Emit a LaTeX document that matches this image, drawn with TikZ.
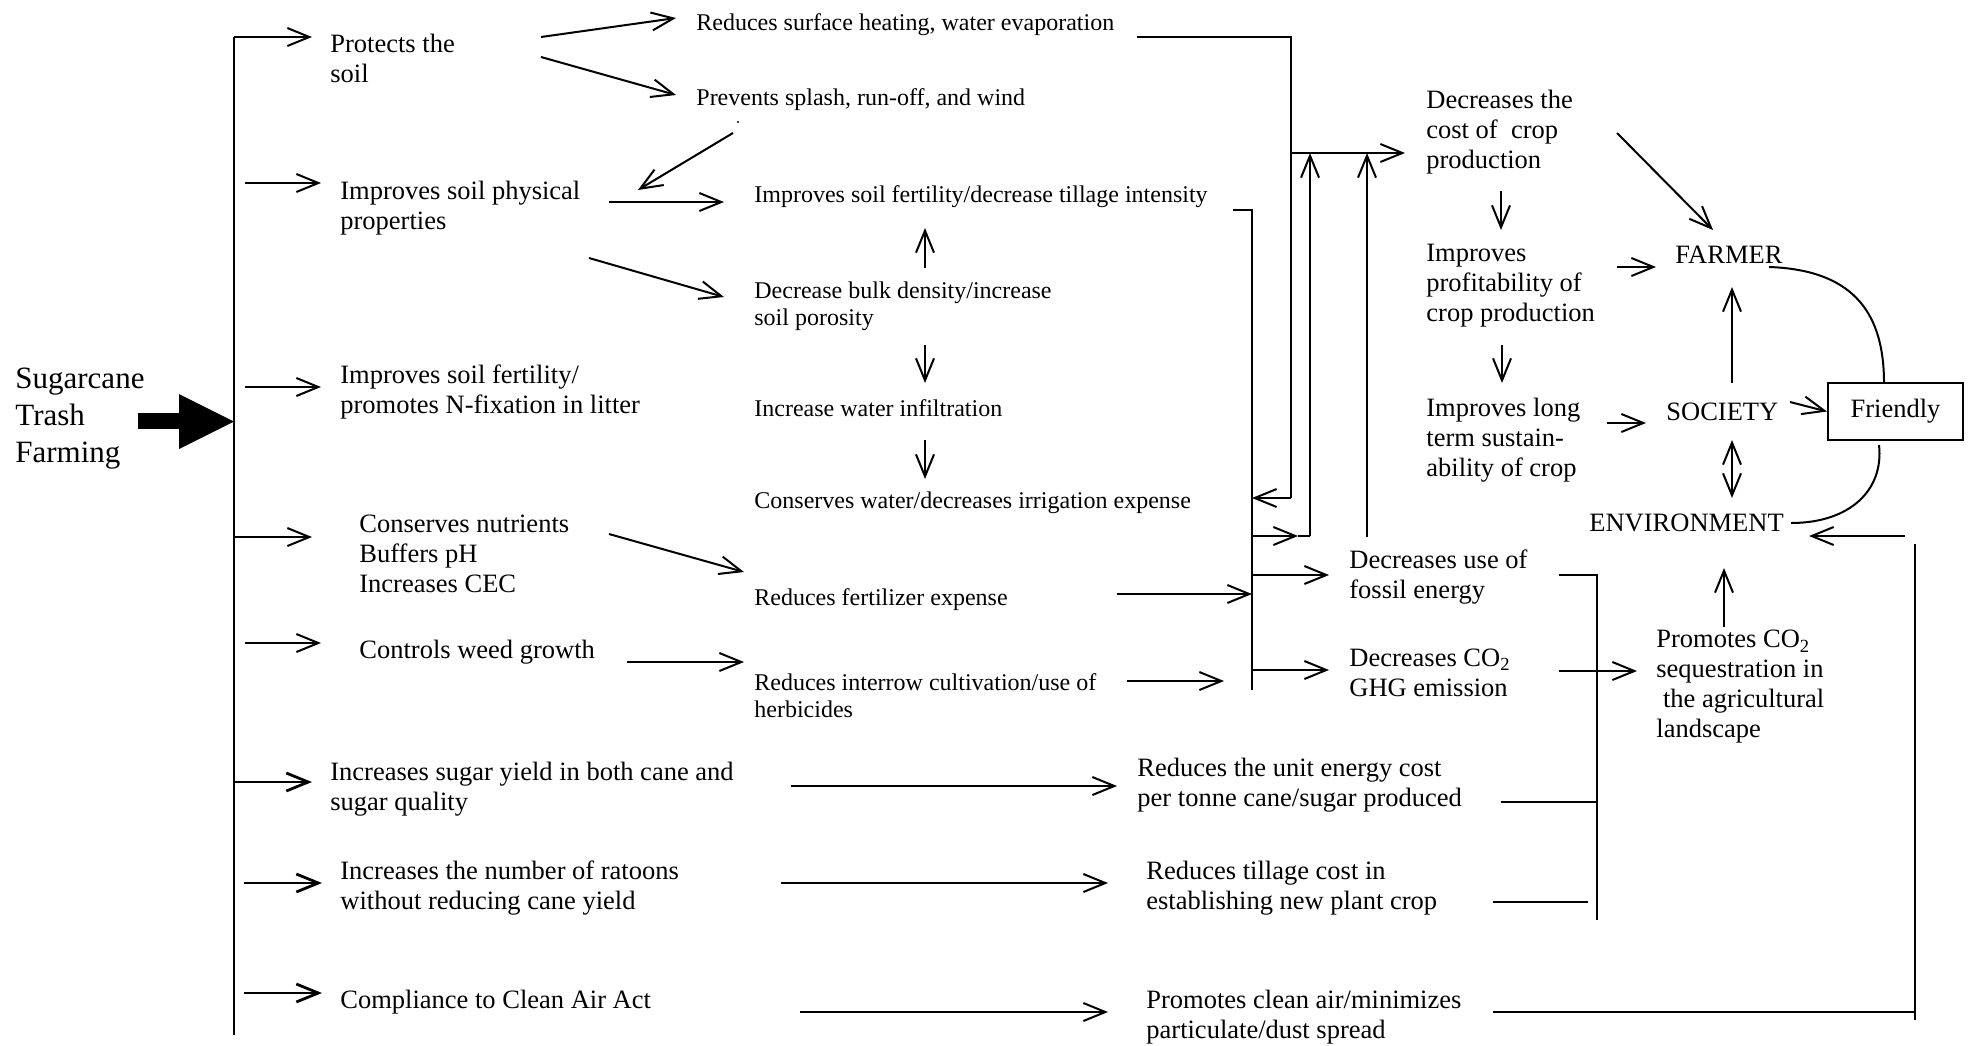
\documentclass[tikz,border=0pt]{standalone}
\usepackage{fontspec}
\setmainfont{Liberation Serif}
\usetikzlibrary{arrows.meta}
\begin{document}
\begin{tikzpicture}[x=0.5pt,y=-0.5pt,
  big/.style={font=\fontsize{13.25}{15}\selectfont, anchor=west, align=left, inner sep=0pt},
  small/.style={font=\fontsize{12}{13.5}\selectfont, anchor=west, align=left, inner sep=0pt},
  title/.style={font=\fontsize{15.5}{18.5}\selectfont, anchor=west, align=left, inner sep=0pt},
  conn/.style={line width=1pt, -{Straight Barb[length=11pt,width=9pt]}},
  both/.style={line width=1pt, {Straight Barb[length=11pt,width=9pt]}-{Straight Barb[length=11pt,width=9pt]}},
  plain/.style={line width=1pt},
  lead/.style={line width=1.4pt, -{Straight Barb[length=11pt,width=9pt]}},
]
\useasboundingbox (0,0) rectangle (1969,1045);

% ---------- text nodes ----------
\node[title] (stf) at (15,419) {Sugarcane\\Trash\\Farming};

\node[big] (pts) at (330,58) {Protects the\\soil};
\node[big] (isp) at (340,208) {Improves soil physical\\properties};
\node[big] (isf) at (340,392) {Improves soil fertility/\\promotes N-fixation in litter};
\node[big] (cnu) at (359,554) {Conserves nutrients\\Buffers pH\\Increases CEC};
\node[big] (cwg) at (359,652) {Controls weed growth};
\node[big] (isy) at (330,789) {Increases sugar yield in both cane and\\sugar quality};
\node[big] (inr) at (340,888) {Increases the number of ratoons\\without reducing cane yield};
\node[big] (cca) at (340,1002) {Compliance to Clean Air Act};

\node[small] (rsh) at (696,25) {Reduces surface heating, water evaporation};
\node[small] (psr) at (696,100) {Prevents splash, run-off, and wind};
\node[small] (ifd) at (754,197) {Improves soil fertility/decrease tillage intensity};
\node[small] (dbd) at (754,306) {Decrease bulk density/increase\\soil porosity};
\node[small] (iwi) at (754,408) {Increase water infiltration};
\node[small] (cwd) at (754,503) {Conserves water/decreases irrigation expense};
\node[small] (rfe) at (754,600) {Reduces fertilizer expense};
\node[small] (ric) at (754,696) {Reduces interrow cultivation/use of\\herbicides};

\node[big] (rue) at (1137,785) {Reduces the unit energy cost\\per tonne cane/sugar produced};
\node[big] (rtc) at (1146,888) {Reduces tillage cost in\\establishing new plant crop};
\node[big] (pca) at (1146,1017) {Promotes clean air/minimizes\\particulate/dust spread};

\node[big] (dcc) at (1426,132) {Decreases the\\cost of\ \ crop\\production};
\node[big] (ipc) at (1426,286) {Improves\\profitability of\\crop production};
\node[big] (ilt) at (1426,440) {Improves long\\term sustain-\\ability of crop};
\node[big] (dfe) at (1349,577) {Decreases use of\\fossil energy};
\node[big] (dco) at (1349,673) {Decreases CO\textsubscript{2}\\GHG emission};
\node[big] (pcs) at (1656,687) {Promotes CO\textsubscript{2}\\sequestration in\\\hspace{0.25em}the agricultural\\landscape};

\node[big] (frm) at (1675,255) {FARMER};
\node[big] (soc) at (1666,412) {SOCIETY};
\node[big] (env) at (1589,523) {ENVIRONMENT};
\node[big, draw, line width=1pt, anchor=center, minimum width=67.5pt, minimum height=28.5pt] (fri) at (1895.5,411.5) {Friendly};

% stray mark under "Prevents"
\fill (738,122) circle (1.2);

% ---------- big input arrow ----------
\fill (138,413) rectangle (180,429);
\fill (179,394) -- (234,421.5) -- (179,449) -- cycle;

% ---------- left trunk ----------
\coordinate (trA) at (234,37);
\coordinate (trB) at (234,1035);
\draw[plain] (trB) -- (trA);
\draw[conn] (trA) -- (312,37);
\draw[conn] (245,183) -- (321,183);
\draw[conn] (245,387) -- (321,387);
\draw[conn] (234,537) -- (312,537);
\draw[conn] (245,643) -- (321,643);
\draw[lead] (234,782) -- (312,782);
\draw[lead] (244,883) -- (322,883);
\draw[lead] (244,993) -- (322,993);

% ---------- left to middle ----------
\draw[conn] (541,37) -- (676,18);
\draw[conn] (541,57) -- (676,95);
\draw[conn] (733,133) -- (638,190);
\draw[conn] (609,202) -- (724,202);
\draw[conn] (589,258) -- (724,297);
\draw[conn] (925,268) -- (925,228);
\draw[conn] (925,345) -- (925,383);
\draw[conn] (925,440) -- (925,479);
\draw[conn] (609,534) -- (744,572);
\draw[conn] (627,662) -- (744,662);

% ---------- middle to hub ----------
\draw[conn] (1117,594) -- (1252,594);
\draw[conn] (1127,681) -- (1224,681);
\draw[plain] (1137,37) -- (1291,37) -- (1291,498);
\draw[conn] (1291,498) -- (1252,498);
\draw[plain] (1233,210) -- (1252,210) -- (1252,690);
\draw[conn] (1252,536) -- (1298,536);
\draw[plain] (1298,536) -- (1310,536);
\draw[conn] (1310,536) -- (1310,153);
\draw[conn] (1367,537) -- (1367,153);
\draw[conn] (1291,153) -- (1405,153);
\draw[conn] (1252,575) -- (1329,575);
\draw[conn] (1252,670) -- (1329,670);

% ---------- right side ----------
\draw[plain] (1559,575) -- (1597,575) -- (1597,920);
\draw[conn] (1559,671) -- (1637,671);
\draw[plain] (1501,802) -- (1597,802);
\draw[plain] (1493,902) -- (1588,902);
\draw[plain] (1493,1012) -- (1915,1012);
\draw[plain] (1915,1020) -- (1915,544);
\draw[conn] (1905,536) -- (1809,536);

\draw[conn] (791,786) -- (1117,786);
\draw[conn] (781,883) -- (1108,883);
\draw[conn] (800,1012) -- (1108,1012);

\draw[conn] (1617,133) -- (1713,230);
\draw[conn] (1501,191) -- (1501,230);
\draw[conn] (1617,267) -- (1656,267);
\draw[conn] (1502,345) -- (1502,383);
\draw[conn] (1607,423) -- (1646,423);
\draw[conn] (1732,383) -- (1732,287);
\draw[both] (1732,440) -- (1732,498);
\draw[conn] (1790,402) -- (fri.west);
\draw[plain] (1769,267) .. controls (1858,270) and (1884,318) .. (1884,383);
\draw[plain] (1879,445) .. controls (1884,490) and (1850,523) .. (1791,523);
\draw[conn] (1724,627) -- (1724,568);

\end{tikzpicture}
\end{document}
